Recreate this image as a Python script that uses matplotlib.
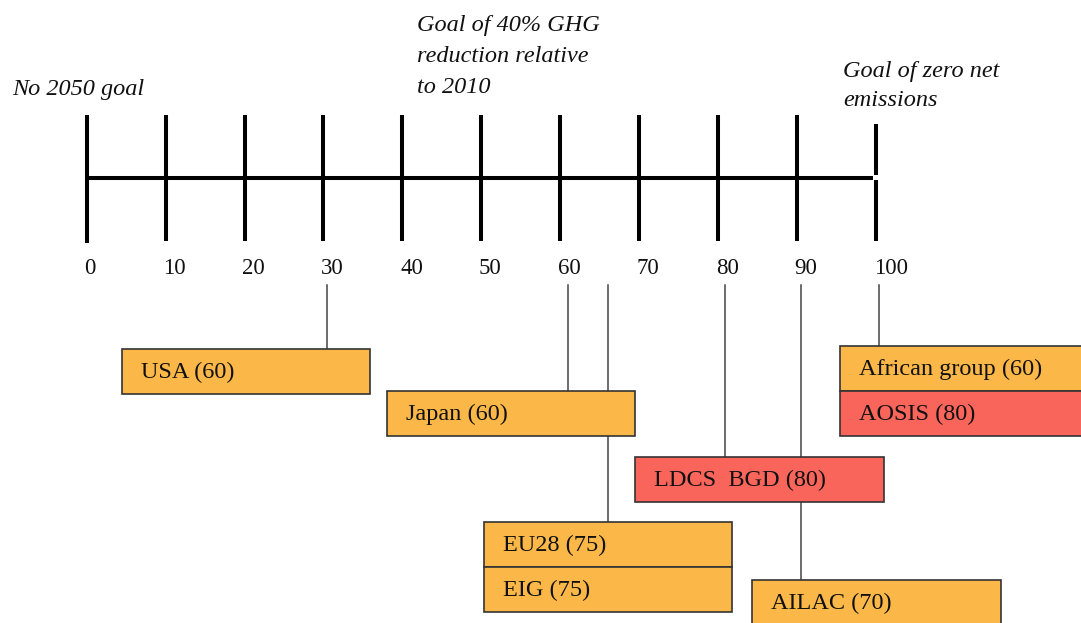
import matplotlib.pyplot as plt
from matplotlib.patches import Rectangle

# scale: share of 2050 reduction goal
ticks = list(range(0, 101, 10))
tick_labels = [str(t) for t in ticks]

# negotiating groups, where they point on the scale, and their label
groups = ['USA (60)', 'Japan (60)', 'EU28 (75)', 'EIG (75)',
          'LDCS  BGD (80)', 'AILAC (70)', 'African group (60)', 'AOSIS (80)']
pointer = [30.4, 61.0, 66.1, 66.1, 80.9, 90.5, 100.4, 100.4]
colors = ['#FBB848', '#FBB848', '#FBB848', '#FBB848',
          '#FA655B', '#FBB848', '#FBB848', '#FA655B']

# layout of the boxes (left edge in scale units, top edge in pixels)
box_left = [4.43, 38.0, 50.3, 50.3, 69.5, 84.3, 95.4, 95.4]
box_top = [348.7, 391.0, 521.7, 567.0, 457.3, 580.3, 345.7, 391.3]
box_w = 31.5
box_h = 44.8

notes = ['No 2050 goal', 'Goal of 40% GHG\nreduction relative\nto 2010',
         'Goal of zero net\nemissions']
note_pos = [(-9.5, 89), (41.9, 56.5), (95.8, 86.5)]
note_spacing = [1.3, 1.62, 1.5]

PX = 7.893  # pixels per scale unit
fig = plt.figure(figsize=(10.81, 6.23), dpi=100)
ax = fig.add_axes([0, 0, 1, 1])
ax.set_xlim(-86.7 / PX, (1081 - 86.7) / PX)
ax.set_ylim(623, 0)
ax.axis('off')

serif = ['Liberation Serif', 'DejaVu Serif']

# main scale
ax.plot([0, 99.6], [177.7, 177.7], color='black', lw=2.9, solid_capstyle='butt')
for t, lab in zip(ticks, tick_labels):
    if t == 100:
        ax.plot([t, t], [124, 175], color='black', lw=2.9, solid_capstyle='butt')
        ax.plot([t, t], [180, 241], color='black', lw=2.9, solid_capstyle='butt')
    else:
        bottom = 242.7 if t == 0 else 240.7
        ax.plot([t, t], [115, bottom], color='black', lw=2.9, solid_capstyle='butt')
    ax.text(t - 0.3, 268.5, lab, ha='left', va='center', fontsize=16.5,
            family=serif, color='#111111')

# connectors (drawn behind the boxes)
seen = set()
for p, top in zip(pointer, box_top):
    if p in seen:
        continue
    seen.add(p)
    ax.plot([p, p], [285, top], color='#444444', lw=1.1, zorder=1)

# boxes
for name, left, top, c in zip(groups, box_left, box_top, colors):
    ax.add_patch(Rectangle((left, top), box_w, box_h, facecolor=c,
                           edgecolor='#333333', lw=1.2, zorder=2))
    ax.text(left + 19 / PX, top + box_h / 2 + 1, name, ha='left', va='center',
            fontsize=17.5, family=serif, color='#111111', zorder=3)

# goal annotations
for txt, (x, y), ls in zip(notes, note_pos, note_spacing):
    ax.text(x, y, txt, ha='left', va='center', fontsize=17.5, style='italic',
            family=serif, color='#111111', linespacing=ls)

fig.savefig('out.png', dpi=100)
